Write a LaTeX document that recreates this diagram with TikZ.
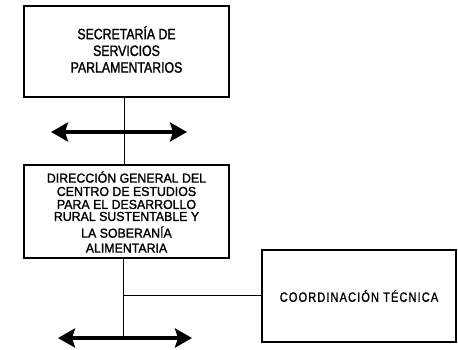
\documentclass[tikz,border=0pt]{standalone}
\usepackage{fontspec}
\setmainfont{Liberation Sans}
\newfontfamily\fonta[FakeStretch=0.82,FakeBold=1.5]{Liberation Sans}
\newfontfamily\fontb[FakeStretch=0.95,FakeBold=1.5]{Liberation Sans}
\newfontfamily\fontc[FakeStretch=0.82,LetterSpace=8,FakeBold=1.2]{Liberation Sans}
\usetikzlibrary{arrows.meta}
\begin{document}
\begin{tikzpicture}[x=1pt,y=-1pt,
  orgbox/.style={draw=black,line width=1.6pt,inner sep=0pt,align=center},
  conn/.style={draw=black,line width=1pt},
  bigarrow/.style={line width=4pt,{Stealth[length=17pt,width=19pt,inset=3pt]}-{Stealth[length=17pt,width=19pt,inset=3pt]}}]
\useasboundingbox (0,0) rectangle (458,349);
\node[orgbox,minimum width=205pt,minimum height=91pt] (b1) at (126.5,51.5) {};
\node[align=center,inner sep=0pt,font=\fonta\fontsize{15}{16.7}\selectfont] (t1txt) at (126.5,49.5)
  {SECRETARÍA DE\\SERVICIOS\\PARLAMENTARIOS};
\node[orgbox,minimum width=205pt,minimum height=93pt] (b2) at (126.5,211.5) {};
\node[align=center,inner sep=0pt,font=\fontb\fontsize{13}{13.5}\selectfont] (t2txt) at (126.5,212)
  {DIRECCIÓN GENERAL DEL\\[-0.2pt]CENTRO DE ESTUDIOS\\[-0.5pt]PARA EL DESARROLLO\\[-1.5pt]RURAL SUSTENTABLE Y\\[3.2pt]LA SOBERANÍA\\[1.5pt]ALIMENTARIA};
\node[orgbox,minimum width=194pt,minimum height=92pt,font=\fontc\fontsize{13.5}{15}\selectfont] (b3) at (359,296)
  {COORDINACIÓN TÉCNICA};
\coordinate (t1) at (124.5,0);
\coordinate (a1l) at (51,132);
\coordinate (a1r) at (187,132);
\coordinate (a2l) at (58,338);
\coordinate (a2r) at (192,338);
\coordinate (a2c) at (123,338);
\coordinate (j) at (123,295);
\draw[conn] (b1.south -| t1) -- (b2.north -| t1);
\draw[bigarrow] (a1l) -- (a1r);
\draw[conn] (b2.south -| j) -- (a2c);
\draw[conn] (j) -- (j -| b3.west);
\draw[bigarrow] (a2l) -- (a2r);
\end{tikzpicture}
\end{document}
